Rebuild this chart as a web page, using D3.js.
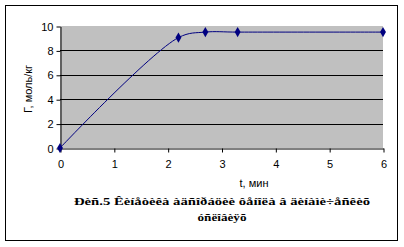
<!DOCTYPE html>
<html lang="ru">
<head>
<meta charset="utf-8">
<title>Kinetics chart</title>
<script src="https://d3js.org/d3.v7.min.js"></script>
<style>
  body { margin: 0; background: #fff; }
  .caption { font-family: "Liberation Serif", "DejaVu Serif", serif; font-weight: bold; }
</style>
</head>
<body>
<script>
// data
var tValues = [0, 2.2, 2.7, 3.3, 6];
var gammaValues = [0, 9.05, 9.5, 9.5, 9.5];
var xTicks = [0, 1, 2, 3, 4, 5, 6];
var yTicks = [0, 2, 4, 6, 8, 10];
var yTitle = "Г, моль/кг";
var xTitle = "t, мин";
var captionLines = ["Ðèñ.5  Êèíåòèêà àäñîðáöèè ôåíîëà â äèíàìè÷åñêèõ", "óñëîâèÿõ"];

var W = 404, H = 247;
var plot = {left: 60, right: 383, top: 26, bottom: 148};
var sans = "Arial, 'Liberation Sans', sans-serif";

var svg = d3.select("body").append("svg")
    .attr("width", W)
    .attr("height", H);

// outer frame
svg.append("rect")
    .attr("x", 5.5).attr("y", 5.5)
    .attr("width", 392).attr("height", 235)
    .attr("fill", "#fff")
    .attr("stroke", "#000")
    .attr("stroke-width", 1);

var x = d3.scaleLinear().domain([0, 6]).range([plot.left, plot.right]);
var y = d3.scaleLinear().domain([0, 10]).range([plot.bottom, plot.top]);

// grey plot area
svg.append("rect")
    .attr("x", plot.left).attr("y", plot.top)
    .attr("width", plot.right - plot.left)
    .attr("height", plot.bottom - plot.top)
    .attr("fill", "#c0c0c0");

// gridlines
svg.append("g")
    .selectAll("line")
    .data(yTicks.filter(function(d){ return d > 0 && d < 10; }))
    .enter()
    .append("line")
    .attr("x1", plot.left).attr("x2", plot.right)
    .attr("y1", function(d){ return Math.round(y(d)) + 0.5; })
    .attr("y2", function(d){ return Math.round(y(d)) + 0.5; })
    .attr("stroke", "#000")
    .attr("stroke-width", 1);

// y axis
var yAxis = svg.append("g")
    .attr("transform", "translate(" + (plot.left + 0.5) + ",0.5)")
    .call(d3.axisLeft(y).tickValues(yTicks).tickFormat(d3.format("d"))
        .tickSize(4).tickPadding(3).tickSizeOuter(0));
yAxis.select(".domain").attr("stroke", "#000");
yAxis.selectAll("text").attr("font-size", "11px").attr("fill", "#000")
    .attr("font-family", sans);

// x axis
var xAxis = svg.append("g")
    .attr("transform", "translate(0.5," + (plot.bottom + 0.5) + ")")
    .call(d3.axisBottom(x).tickValues(xTicks).tickFormat(d3.format("d"))
        .tickSize(4).tickPadding(8).tickSizeOuter(0));
xAxis.select(".domain").attr("stroke", "#000");
xAxis.selectAll("text").attr("font-size", "11px").attr("fill", "#000")
    .attr("font-family", sans);

// series
var pts = tValues.map(function(t, i){ return [t, gammaValues[i]]; });
var line = d3.line()
    .x(function(d){ return x(d[0]); })
    .y(function(d){ return y(d[1]); })
    .curve(d3.curveCatmullRom.alpha(0.5));

svg.append("path")
    .datum(pts)
    .attr("d", line)
    .attr("fill", "none")
    .attr("stroke", "#000080")
    .attr("stroke-width", 1);

svg.append("g")
    .selectAll("path")
    .data(pts)
    .enter()
    .append("path")
    .attr("d", d3.symbol().type(d3.symbolDiamond).size(30))
    .attr("transform", function(d){ return "translate(" + x(d[0]) + "," + y(d[1]) + ")"; })
    .attr("fill", "#000080");

// axis titles
svg.append("text")
    .attr("transform", "translate(32,89) rotate(-90)")
    .attr("text-anchor", "middle")
    .attr("font-family", sans)
    .attr("font-size", "11px")
    .text(yTitle);

svg.append("text")
    .attr("x", 254)
    .attr("y", 187)
    .attr("text-anchor", "middle")
    .attr("font-family", sans)
    .attr("font-size", "11px")
    .text(xTitle);

// caption
var capWidths = [296, 49];
svg.append("g")
    .selectAll("text")
    .data(captionLines)
    .enter()
    .append("text")
    .attr("class", "caption")
    .attr("x", function(d, i){ return 222 - capWidths[i] / 2; })
    .attr("y", function(d, i){ return 205 + i * 16; })
    .attr("textLength", function(d, i){ return capWidths[i]; })
    .attr("lengthAdjust", "spacingAndGlyphs")
    .attr("font-size", "11px")
    .text(function(d){ return d; });
</script>
</body>
</html>
